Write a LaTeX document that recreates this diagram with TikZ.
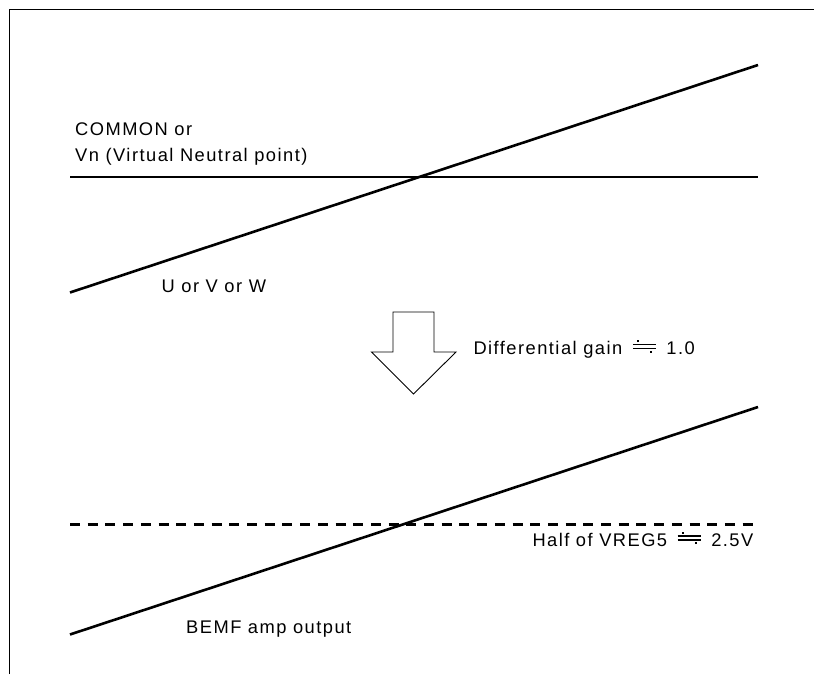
\documentclass[tikz,border=0pt]{standalone}
\usepackage{fontspec}
\setmainfont[LetterSpace=8]{Liberation Sans}
\newcommand{\apxeq}{{\setlength{\unitlength}{1pt}\begin{picture}(31,13)
  \put(4,5.5){\rule{23pt}{1.1pt}}
  \put(4,9.5){\rule{23pt}{1.1pt}}
  \put(8,12.2){\rule{1.8pt}{1.8pt}}
  \put(21,1.8){\rule{1.8pt}{1.8pt}}
\end{picture}}}
\begin{document}
\begin{tikzpicture}[x=1pt,y=-1pt,
  thickline/.style={line width=2.6pt},
  frameline/.style={line width=1.1pt},
  lbl/.style={inner sep=0pt,font=\fontsize{18.3}{21}\selectfont},
  blockarrow/.style={line width=0.9pt,fill=white}]
\useasboundingbox (0,0) rectangle (814,675);
% frame
\coordinate (fbl) at (9.5,674);
\coordinate (ftl) at (9.5,9.5);
\coordinate (ftr) at (814,9.5);
\draw[frameline] (fbl) -- (ftl) -- (ftr);
% upper graph
\coordinate (hl) at (70,177);
\coordinate (hr) at (758,177);
\coordinate (ul) at (70,292.5);
\coordinate (ur) at (758,65);
\draw[thickline] (hl) -- (hr);
\draw[thickline] (ul) -- (ur);
\node[lbl,anchor=base west] (common) at (75,135) {COMMON or};
\node[lbl,anchor=base west] (vn) at (75,161.5) {Vn (Virtual Neutral point)};
\node[lbl,anchor=base west] (uvw) at (161.5,292.3) {U or V or W};
% block arrow
\draw[blockarrow] (393,312) -- (434,312) -- (434,352) -- (456,352) -- (413.5,394) -- (371.5,352) -- (393,352) -- cycle;
\node[lbl,anchor=base west] (gain) at (473.3,354.3) {Differential gain \apxeq\ 1.0};
% lower graph
\coordinate (dl) at (70,524.5);
\coordinate (dr) at (758,524.5);
\coordinate (bl) at (70,634.5);
\coordinate (br) at (758,407);
\draw[line width=2.4pt,dash pattern=on 10pt off 7.7pt] (dl) -- (dr);
\draw[thickline] (bl) -- (br);
\node[lbl,anchor=base east] (half) at (753.5,546) {Half of VREG5 \apxeq\ 2.5V};
\node[lbl,anchor=base west] (bemf) at (186,633.3) {BEMF amp output};
\end{tikzpicture}
\end{document}
